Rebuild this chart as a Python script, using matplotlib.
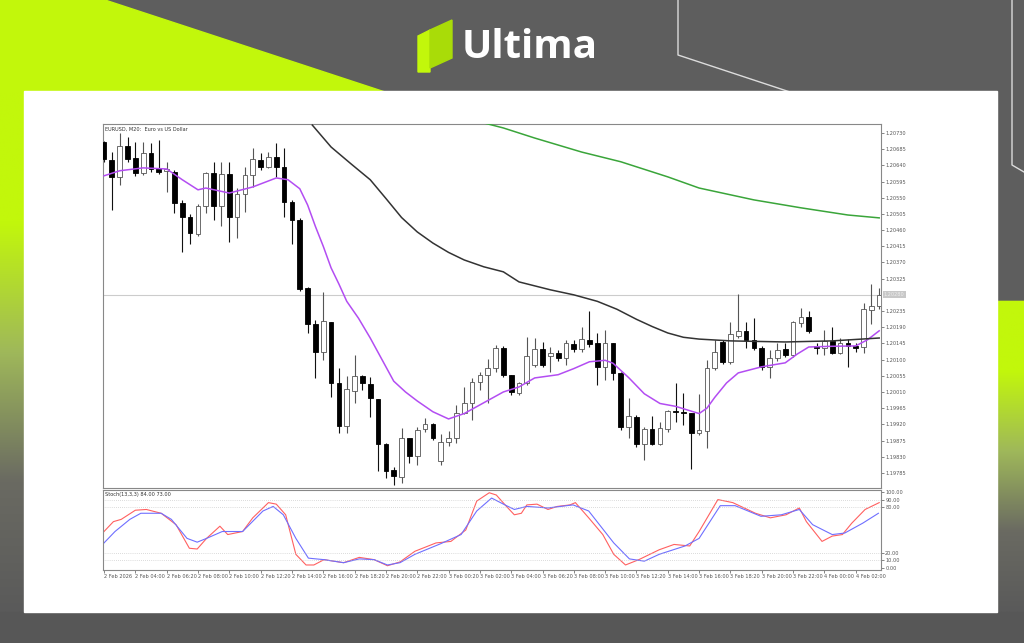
import numpy as np
import matplotlib
matplotlib.use("Agg")
import matplotlib.pyplot as plt
from matplotlib.patches import Polygon, Rectangle
from matplotlib.colors import LinearSegmentedColormap

# EURUSD M20 candles (prices)
opens = [1.20705, 1.20655, 1.20608, 1.20694, 1.20661, 1.20619, 1.20675, 1.20633, 1.20625, 1.20622,
         1.20536, 1.20497, 1.20449, 1.20527, 1.20619, 1.20527, 1.20616, 1.20497, 1.20561, 1.20614,
         1.20655, 1.20636, 1.20664, 1.20636, 1.20538, 1.20488, 1.20299, 1.20199, 1.20121, 1.20205,
         1.20035, 1.19916, 1.20013, 1.20055, 1.20032, 1.19991, 1.19866, 1.19793, 1.19774, 1.19882,
         1.19832, 1.19907, 1.19921, 1.19818, 1.19871, 1.19882, 1.19952, 1.19980, 1.20038, 1.20058,
         1.20077, 1.20133, 1.20058, 1.20007, 1.20035, 1.20085, 1.20130, 1.20110, 1.20119, 1.20105,
         1.20144, 1.20130, 1.20155, 1.20146, 1.20080, 1.20146, 1.20063, 1.19913, 1.19941, 1.19866,
         1.19907, 1.19866, 1.19907, 1.19957, 1.19955, 1.19952, 1.19896, 1.19902, 1.20077, 1.20149,
         1.20094, 1.20166, 1.20180, 1.20155, 1.20133, 1.20080, 1.20105, 1.20130, 1.20113, 1.20202,
         1.20219, 1.20138, 1.20133, 1.20152, 1.20119, 1.20146, 1.20138, 1.20135, 1.20238, 1.20249]
closes = [1.20658, 1.20608, 1.20694, 1.20658, 1.20619, 1.20675, 1.20630, 1.20622, 1.20630, 1.20536,
          1.20497, 1.20452, 1.20527, 1.20619, 1.20527, 1.20616, 1.20497, 1.20561, 1.20614, 1.20658,
          1.20636, 1.20664, 1.20636, 1.20538, 1.20488, 1.20297, 1.20199, 1.20121, 1.20208, 1.20035,
          1.19916, 1.20019, 1.20055, 1.20035, 1.19994, 1.19866, 1.19791, 1.19777, 1.19882, 1.19832,
          1.19904, 1.19921, 1.19882, 1.19871, 1.19882, 1.19952, 1.19980, 1.20038, 1.20058, 1.20077,
          1.20133, 1.20058, 1.20010, 1.20035, 1.20110, 1.20130, 1.20085, 1.20119, 1.20105, 1.20146,
          1.20130, 1.20158, 1.20144, 1.20080, 1.20146, 1.20063, 1.19913, 1.19944, 1.19866, 1.19907,
          1.19866, 1.19910, 1.19957, 1.19955, 1.19952, 1.19896, 1.19904, 1.20077, 1.20121, 1.20094,
          1.20171, 1.20180, 1.20155, 1.20133, 1.20080, 1.20105, 1.20127, 1.20113, 1.20205, 1.20219,
          1.20180, 1.20133, 1.20152, 1.20119, 1.20146, 1.20138, 1.20133, 1.20241, 1.20249, 1.20280]
highs = [1.20708, 1.20677, 1.20730, 1.20719, 1.20705, 1.20705, 1.20702, 1.20711, 1.20650, 1.20627,
         1.20544, 1.20505, 1.20533, 1.20622, 1.20650, 1.20650, 1.20650, 1.20577, 1.20636, 1.20689,
         1.20675, 1.20677, 1.20702, 1.20689, 1.20544, 1.20494, 1.20302, 1.20210, 1.20288, 1.20205,
         1.20077, 1.20055, 1.20113, 1.20058, 1.20052, 1.19991, 1.19868, 1.19802, 1.19910, 1.19882,
         1.19913, 1.19938, 1.19924, 1.19893, 1.19902, 1.19974, 1.20024, 1.20049, 1.20066, 1.20102,
         1.20141, 1.20138, 1.20058, 1.20038, 1.20163, 1.20160, 1.20149, 1.20135, 1.20127, 1.20155,
         1.20155, 1.20191, 1.20235, 1.20174, 1.20183, 1.20146, 1.20066, 1.19994, 1.19946, 1.19913,
         1.19944, 1.19927, 1.19960, 1.20035, 1.20007, 1.19952, 1.20005, 1.20100, 1.20155, 1.20155,
         1.20205, 1.20283, 1.20205, 1.20216, 1.20138, 1.20127, 1.20146, 1.20146, 1.20208, 1.20244,
         1.20235, 1.20146, 1.20183, 1.20191, 1.20160, 1.20158, 1.20146, 1.20258, 1.20310, 1.20299]
lows = [1.20650, 1.20516, 1.20586, 1.20650, 1.20611, 1.20614, 1.20622, 1.20616, 1.20566, 1.20508,
        1.20399, 1.20422, 1.20444, 1.20508, 1.20488, 1.20472, 1.20427, 1.20438, 1.20511, 1.20580,
        1.20627, 1.20633, 1.20608, 1.20497, 1.20422, 1.20291, 1.20174, 1.20049, 1.20099, 1.19996,
        1.19896, 1.19896, 1.19980, 1.20016, 1.19941, 1.19791, 1.19771, 1.19752, 1.19757, 1.19813,
        1.19807, 1.19899, 1.19877, 1.19807, 1.19860, 1.19868, 1.19949, 1.19932, 1.20016, 1.19980,
        1.20066, 1.20052, 1.20002, 1.20002, 1.20030, 1.20080, 1.20080, 1.20066, 1.20096, 1.20085,
        1.20121, 1.20121, 1.20135, 1.20030, 1.20044, 1.20044, 1.19904, 1.19882, 1.19857, 1.19821,
        1.19863, 1.19863, 1.19899, 1.19927, 1.19918, 1.19796, 1.19891, 1.19855, 1.20071, 1.20088,
        1.20088, 1.20160, 1.20133, 1.20127, 1.20071, 1.20049, 1.20096, 1.20108, 1.20108, 1.20191,
        1.20174, 1.20116, 1.20113, 1.20116, 1.20116, 1.20080, 1.20121, 1.20119, 1.20199, 1.20241]

# moving averages (candle index, price)
ma_fast_idx = [0, 2, 5, 8, 10, 12, 13, 16, 19, 22, 23.5, 25, 26, 27, 28, 29, 30, 31, 32.5, 34, 35.5,
               37, 38.5, 40, 42, 44, 46, 48.5, 51, 53, 55, 58, 60, 62, 64, 65, 67, 69, 71, 73, 76,
               77, 78, 79.5, 81, 84, 87, 88.5, 90, 93, 96, 97.5, 99]
ma_fast = [1.20611, 1.20625, 1.20633, 1.20630, 1.20600, 1.20572, 1.20577, 1.20563, 1.20580, 1.20605,
           1.20600, 1.20575, 1.20530, 1.20470, 1.20415, 1.20355, 1.20310, 1.20262, 1.20215, 1.20160,
           1.20100, 1.20040, 1.20010, 1.19985, 1.19955, 1.19935, 1.19950, 1.19980, 1.20010, 1.20024,
           1.20049, 1.20058, 1.20075, 1.20094, 1.20098, 1.20090, 1.20050, 1.20005, 1.19978, 1.19970,
           1.19950, 1.19965, 1.19995, 1.20035, 1.20063, 1.20080, 1.20091, 1.20115, 1.20135, 1.20137,
           1.20138, 1.20155, 1.20180]
ma_mid_idx = [26.6, 29, 31.5, 34, 36, 38, 40, 42, 44, 46, 48.5, 51, 53, 57, 60, 63, 65.5, 68, 70,
              72, 74, 76, 80, 87, 93, 99]
ma_mid = [1.20752, 1.20691, 1.20645, 1.20600, 1.20548, 1.20495, 1.20455, 1.20424, 1.20398, 1.20377,
          1.20358, 1.20344, 1.20316, 1.20294, 1.20280, 1.20262, 1.20240, 1.20212, 1.20192, 1.20174,
          1.20162, 1.20157, 1.20152, 1.20149, 1.20152, 1.20160]
ma_slow_idx = [48.5, 51, 55, 61, 66, 72, 76, 83, 89, 95, 99]
ma_slow = [1.20758, 1.20744, 1.20716, 1.20677, 1.20650, 1.20608, 1.20577, 1.20544, 1.20522, 1.20502,
           1.20494]

# stochastic (13,3,3)
stoch_main_idx = [0, 1.2, 2.2, 4, 5.4, 7.3, 9.2, 10.9, 11.9, 13.1, 14.8, 15.8, 17.7, 19, 21, 22, 23.2,
                  24.5, 25.8, 26.8, 28.1, 30.6, 32.6, 34.5, 36.2, 37.8, 39.7, 42.4, 44.3, 46.2, 47.6,
                  49.2, 50.1, 51.4, 52.4, 53.3, 54, 55.3, 56.7, 57.9, 59.5, 60.2, 61.9, 63.7, 65.1,
                  66.6, 68.3, 70.9, 72.8, 74.8, 76, 78.4, 80.3, 83.2, 85.1, 87.1, 88.8, 89.7, 91.7,
                  93, 94.3, 95.5, 97.2, 99]
stoch_main = [48, 61, 64, 76, 77, 72, 57, 26, 25, 39, 55, 44, 48, 66, 86, 84, 70, 18, 4, 4, 11, 7, 14,
              11, 3, 8, 22, 33, 35, 50, 88, 99, 96, 81, 70, 72, 83, 84, 77, 81, 83, 86, 66, 44, 18, 4,
              11, 24, 31, 29, 48, 90, 86, 72, 66, 70, 79, 61, 35, 42, 44, 59, 77, 86]
stoch_sig_idx = [0, 1.4, 3.3, 4.7, 7.3, 8.6, 10.6, 11.9, 13.1, 15.1, 17.7, 20.3, 21.6, 22.9, 24.5, 26.1,
                 28.1, 30.6, 32.6, 34.5, 36.2, 37.8, 39.7, 43, 45.6, 47.6, 49.5, 51.2, 52.4, 54, 56.7,
                 59.9, 61.9, 65.1, 67.1, 69, 70.9, 74.2, 76, 78.7, 80.6, 83.9, 86.5, 88.8, 90.5, 93,
                 94.6, 96.9, 98.9]
stoch_sig = [33, 48, 64, 72, 72, 64, 39, 34, 39, 48, 48, 75, 81, 70, 39, 13, 11, 7, 12, 11, 4, 7, 18,
             32, 44, 75, 92, 83, 77, 81, 79, 83, 75, 33, 12, 9, 18, 29, 39, 82, 82, 68, 70, 77, 57, 44,
             46, 59, 72]

price_ticks = [1.20730, 1.20685, 1.20640, 1.20595, 1.20550, 1.20505, 1.20460, 1.20415, 1.20370,
               1.20325, 1.20235, 1.20190, 1.20145, 1.20100, 1.20055, 1.20010, 1.19965, 1.19920,
               1.19875, 1.19830, 1.19785]
time_labels = ["2 Feb 2026", "2 Feb 04:00", "2 Feb 06:20", "2 Feb 08:00", "2 Feb 10:00", "2 Feb 12:20",
               "2 Feb 14:00", "2 Feb 16:00", "2 Feb 18:20", "2 Feb 20:00", "2 Feb 22:00", "3 Feb 00:20",
               "3 Feb 02:00", "3 Feb 04:00", "3 Feb 06:20", "3 Feb 08:00", "3 Feb 10:00", "3 Feb 12:20",
               "3 Feb 14:00", "3 Feb 16:00", "3 Feb 18:20", "3 Feb 20:00", "3 Feb 22:00", "4 Feb 00:00",
               "4 Feb 02:00"]
current_price = 1.20280

W, H = 1024, 643
fig = plt.figure(figsize=(W / 100, H / 100), dpi=100)
fig.patch.set_facecolor("#5e5e5e")

# background / branding layer in pixel coords
bg = fig.add_axes([0, 0, 1, 1])
bg.set_xlim(0, W)
bg.set_ylim(H, 0)
bg.axis("off")
lime = "#c2f70b"
fade = LinearSegmentedColormap.from_list("fade", [lime, lime, "#9fb85a", "#6a6a62", "#5a5a5a"])
grad = np.linspace(0, 1, 256).reshape(-1, 1)
bg.imshow(grad, cmap=fade, extent=(0, 30, 612, 92), aspect="auto", zorder=0)
bg.imshow(grad, cmap=fade, extent=(990, W, 612, 290), aspect="auto", zorder=0)
bg.add_patch(Polygon([(990, 270), (W, 290), (W, 300), (990, 300)], color="#5e5e5e", zorder=1))
bg.add_patch(Polygon([(0, 0), (105, 0), (385, 92), (0, 92)], color=lime, zorder=1))
bg.add_patch(Rectangle((0, 612), W, 31, color="#575757", zorder=1))
bg.plot([678, 678, 790], [0, 55, 92], color="#dcdcdc", lw=1, zorder=2)
bg.plot([1012, 1012, 1024], [0, 165, 172], color="#dcdcdc", lw=1, zorder=2)
bg.add_patch(Rectangle((24, 91), 973, 521, color="white", zorder=3))
# logo
bg.add_patch(Polygon([(418, 36), (430, 30), (430, 72), (418, 72)], color=lime, zorder=3))
bg.add_patch(Polygon([(430, 30), (452, 20), (452, 58), (430, 68)], color="#a9dc08", zorder=3))
bg.text(462, 47, "Ultima", color="white", fontsize=29, fontweight="bold",
        va="center", ha="left", family="Open Sans", zorder=3)

xl = (-0.13, 99.23)
ax = fig.add_axes([103 / W, 1 - 488 / H, 778 / W, 364 / H])
ax2 = fig.add_axes([103 / W, 1 - 570 / H, 778 / W, 80 / H])

n = len(opens)
idx = np.arange(n)
for i in idx:
    o, c, h, l = opens[i], closes[i], highs[i], lows[i]
    bull = c >= o
    ax.vlines(i, l, h, color="#555555" if bull else "#111111", lw=0.8, zorder=2)
    lo, hi = min(o, c), max(o, c)
    ax.add_patch(Rectangle((i - 0.3, lo), 0.6, max(hi - lo, 0.000012),
                           facecolor="white" if bull else "black",
                           edgecolor="#555555" if bull else "black", lw=0.6, zorder=3))

ax.plot(ma_fast_idx, ma_fast, color="#b34df2", lw=1.1, zorder=4)
ax.plot(ma_mid_idx, ma_mid, color="#333333", lw=1.1, zorder=4)
ax.plot(ma_slow_idx, ma_slow, color="#3aa53a", lw=1.1, zorder=4)
ax.axhline(current_price, color="#cccccc", lw=0.8, zorder=1)

ax.set_xlim(*xl)
ax.set_ylim(1.19743, 1.20755)
ax.yaxis.tick_right()
ax.set_yticks(price_ticks)
ax.set_yticklabels([f"{p:.5f}" for p in price_ticks], fontsize=3.6, color="#555555")
ax.tick_params(axis="y", length=2, width=0.5, colors="#555555", pad=1)
ax.set_xticks([])
ax.annotate(f"{current_price:.5f}", xy=(1, current_price), xycoords=("axes fraction", "data"),
            xytext=(2, 0), textcoords="offset points", fontsize=3.6, color="#eeeeee", va="center",
            bbox=dict(boxstyle="square,pad=0.2", fc="#c8c8c8", ec="none"))
ax.text(0.003, 0.993, "EURUSD, M20:  Euro vs US Dollar", transform=ax.transAxes,
        fontsize=3.6, va="top", color="#333333")
for sp in ax.spines.values():
    sp.set_color("#888888")
    sp.set_linewidth(0.8)

ax2.plot(stoch_main_idx, stoch_main, color="#ff6060", lw=0.8)
ax2.plot(stoch_sig_idx, stoch_sig, color="#6f6fff", lw=0.8)
for lvl in (90, 80, 20, 10):
    ax2.axhline(lvl, color="#bbbbbb", lw=0.5, ls=(0, (1, 2)))
ax2.set_xlim(*xl)
ax2.set_ylim(-2.6, 102.6)
ax2.yaxis.tick_right()
ax2.set_yticks([100, 90, 80, 20, 10, 0])
ax2.set_yticklabels(["100.00", "90.00", "80.00", "20.00", "10.00", "0.00"], fontsize=3.6, color="#555555")
ax2.tick_params(axis="y", length=2, width=0.5, colors="#555555", pad=1)
ax2.set_xticks(np.arange(0, n, 4))
ax2.set_xticklabels(time_labels, fontsize=3.6, color="#555555", ha="left")
ax2.tick_params(axis="x", length=2, width=0.5, colors="#555555", pad=1)
ax2.text(0.003, 0.97, "Stoch(13,3,3) 84.00 73.00", transform=ax2.transAxes,
         fontsize=3.6, va="top", color="#333333")
for sp in ax2.spines.values():
    sp.set_color("#888888")
    sp.set_linewidth(0.8)

fig.savefig("out.png", dpi=100)
